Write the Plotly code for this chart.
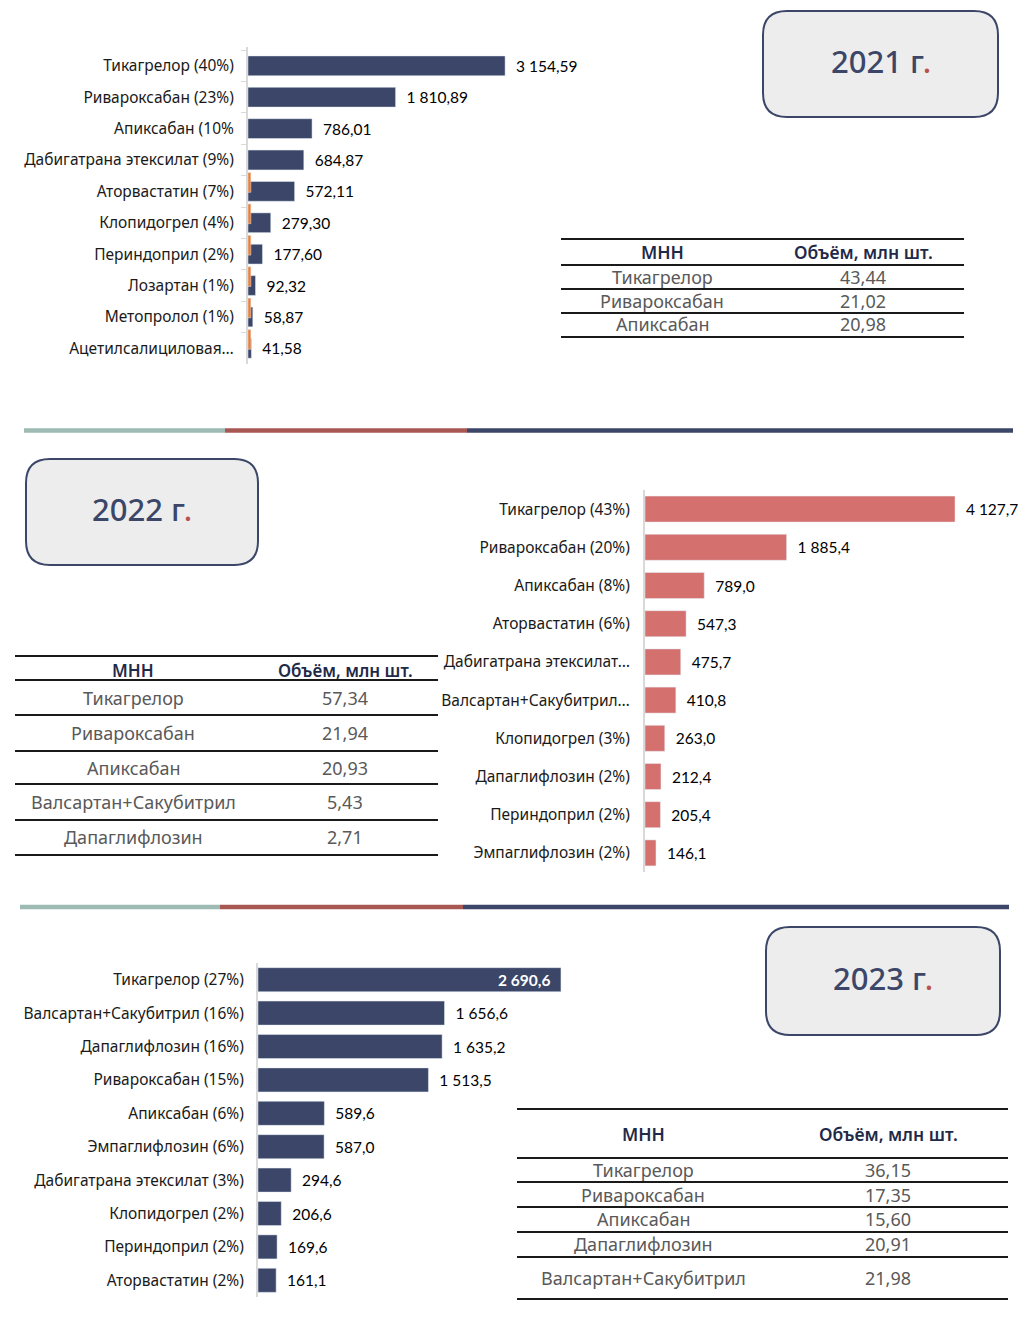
import plotly.graph_objects as go

W, H = 1036, 1336

# ---------------- data ----------------
labels_2021 = ["Тикагрелор (40%)", "Ривароксабан (23%)", "Апиксабан (10%",
               "Дабигатрана этексилат (9%)", "Аторвастатин (7%)", "Клопидогрел (4%)",
               "Периндоприл (2%)", "Лозартан (1%)", "Метопролол (1%)",
               "Ацетилсалициловая…"]
values_2021 = [3154.59, 1810.89, 786.01, 684.87, 572.11, 279.30, 177.60, 92.32, 58.87, 41.58]
minor_2021 = [None, None, None, None, 35, 35, 35, 35, 35, 35]

labels_2022 = ["Тикагрелор (43%)", "Ривароксабан (20%)", "Апиксабан (8%)",
               "Аторвастатин (6%)", "Дабигатрана этексилат…", "Валсартан+Сакубитрил…",
               "Клопидогрел (3%)", "Дапаглифлозин (2%)", "Периндоприл (2%)",
               "Эмпаглифлозин (2%)"]
values_2022 = [4127.7, 1885.4, 789.0, 547.3, 475.7, 410.8, 263.0, 212.4, 205.4, 146.1]

labels_2023 = ["Тикагрелор (27%)", "Валсартан+Сакубитрил (16%)", "Дапаглифлозин (16%)",
               "Ривароксабан (15%)", "Апиксабан (6%)", "Эмпаглифлозин (6%)",
               "Дабигатрана этексилат (3%)", "Клопидогрел (2%)", "Периндоприл (2%)",
               "Аторвастатин (2%)"]
values_2023 = [2690.6, 1656.6, 1635.2, 1513.5, 589.6, 587.0, 294.6, 206.6, 169.6, 161.1]

table_header = ["МНН", "Объём, млн шт."]
table_2021_mnn = ["Тикагрелор", "Ривароксабан", "Апиксабан"]
table_2021_vol = [43.44, 21.02, 20.98]
table_2022_mnn = ["Тикагрелор", "Ривароксабан", "Апиксабан", "Валсартан+Сакубитрил", "Дапаглифлозин"]
table_2022_vol = [57.34, 21.94, 20.93, 5.43, 2.71]
table_2023_mnn = ["Тикагрелор", "Ривароксабан", "Апиксабан", "Дапаглифлозин", "Валсартан+Сакубитрил"]
table_2023_vol = [36.15, 17.35, 15.60, 20.91, 21.98]

years = ["2021", "2022", "2023"]

# ---------------- style ----------------
NAVY = "#3b4668"
SALMON = "#d4706e"
ORANGE = "#ed7d31"
RED = "#b9524e"
LABEL_FONT = dict(family="Noto Sans", size=15.5, color="#1a1a1a")
VALUE_FONT = dict(family="Lato", size=15.5, color="#000000")
NBSP = "\u00a0"


def fmt(v, d):
    s = f"{v:,.{d}f}"
    return s.replace(",", " ").replace(".", ",")


def px(x):
    return x / W


def py(y):
    return 1 - y / H


fig = go.Figure()

# 2021
fig.add_trace(go.Bar(orientation="h", y=labels_2021, x=values_2021, xaxis="x", yaxis="y",
                     marker_color=NAVY, width=0.63,
                     text=[NBSP * 2 + fmt(v, 2) for v in values_2021],
                     textposition="outside", textfont=VALUE_FONT,
                     cliponaxis=False, constraintext="none"))
fig.add_trace(go.Bar(orientation="h", y=labels_2021, x=minor_2021, xaxis="x", yaxis="y",
                     marker_color=ORANGE, width=0.63, offset=-0.6))
# 2022
fig.add_trace(go.Bar(orientation="h", y=labels_2022, x=values_2022, xaxis="x2", yaxis="y2",
                     marker_color=SALMON, width=0.68,
                     text=[NBSP * 2 + fmt(v, 1) for v in values_2022],
                     textposition="outside", textfont=VALUE_FONT,
                     cliponaxis=False, constraintext="none"))
# 2023
pos_2023 = ["inside"] + ["outside"] * (len(values_2023) - 1)
txt_2023 = [fmt(values_2023[0], 1) + NBSP * 2] + [NBSP * 2 + fmt(v, 1) for v in values_2023[1:]]
fig.add_trace(go.Bar(orientation="h", y=labels_2023, x=values_2023, xaxis="x3", yaxis="y3",
                     marker_color=NAVY, width=0.72,
                     text=txt_2023, textposition=pos_2023,
                     insidetextanchor="end",
                     insidetextfont=dict(family="Lato", size=15.5, color="white", weight="bold"),
                     outsidetextfont=VALUE_FONT,
                     cliponaxis=False, constraintext="none"))

yax_common = dict(autorange="reversed", showline=True, linecolor="#d9d9d9", linewidth=2,
                  showgrid=False, zeroline=False, tickfont=LABEL_FONT, type="category")

fig.update_layout(
    width=W, height=H, margin=dict(l=0, r=0, t=0, b=0),
    paper_bgcolor="white", plot_bgcolor="white", showlegend=False,
    barmode="overlay",
    xaxis=dict(domain=[px(248), px(620)], range=[0, 372 / 0.0815], visible=False, anchor="y"),
    yaxis=dict(domain=[py(364), py(47)], anchor="x", ticks="outside", tickson="boundaries",
               ticklen=5, tickcolor="#d9d9d9", tickwidth=1, ticklabelstandoff=9, **yax_common),
    xaxis2=dict(domain=[px(645), px(1036)], range=[0, 391 / 0.0751], visible=False, anchor="y2"),
    yaxis2=dict(domain=[py(872), py(490)], anchor="x2", ticks="", ticklabelstandoff=10, **yax_common),
    xaxis3=dict(domain=[px(258), px(620)], range=[0, 362 / 0.1126], visible=False, anchor="y3"),
    yaxis3=dict(domain=[py(1297), py(963)], anchor="x3", ticks="", ticklabelstandoff=9, **yax_common),
)

shapes = []
annotations = []


def rrect(x0, y0, x1, y1, r):
    pts = [
        ("M", [(x0 + r, y0)]), ("L", [(x1 - r, y0)]), ("Q", [(x1, y0), (x1, y0 + r)]),
        ("L", [(x1, y1 - r)]), ("Q", [(x1, y1), (x1 - r, y1)]), ("L", [(x0 + r, y1)]),
        ("Q", [(x0, y1), (x0, y1 - r)]), ("L", [(x0, y0 + r)]), ("Q", [(x0, y0), (x0 + r, y0)]),
    ]
    s = ""
    for cmd, ps in pts:
        s += cmd + " " + " ".join(f"{px(a):.5f},{py(b):.5f}" for a, b in ps) + " "
    return s + "Z"


# year boxes
boxes = [(763, 11, 998, 117), (26, 459, 258, 565), (766, 927, 1000, 1035)]
for yr, (x0, y0, x1, y1) in zip(years, boxes):
    shapes.append(dict(type="path", xref="paper", yref="paper", path=rrect(x0, y0, x1, y1, 24),
                       fillcolor="#ededed", line=dict(color=NAVY, width=2), layer="below"))
    annotations.append(dict(xref="paper", yref="paper", x=px((x0 + x1) / 2), y=py((y0 + y1) / 2 - 3),
                            text=f"{yr} г<span style='color:{RED}'>.</span>", showarrow=False,
                            font=dict(family="Noto Sans", size=31, color=NAVY, weight=500),
                            xanchor="center", yanchor="middle"))

# separators
for yy, xs in [(430.5, [24, 225, 467, 1013]), (907, [20, 220, 463, 1009])]:
    for (a, b), c in zip([(xs[0], xs[1]), (xs[1], xs[2]), (xs[2], xs[3])],
                         ["#9dbab3", "#a85753", NAVY]):
        shapes.append(dict(type="line", xref="paper", yref="paper", x0=px(a), x1=px(b),
                           y0=py(yy), y1=py(yy), line=dict(color=c, width=4.5)))


# tables
def table(x0, x1, lines, header_y, row_ys, cx_name, cx_val, names, vols, hsize):
    for ly in lines:
        shapes.append(dict(type="line", xref="paper", yref="paper", x0=px(x0), x1=px(x1),
                           y0=py(ly), y1=py(ly), line=dict(color="#1a1a1a", width=2)))
    for cx, t in zip([cx_name, cx_val], table_header):
        annotations.append(dict(xref="paper", yref="paper", x=px(cx), y=py(header_y), text=t,
                                showarrow=False, xanchor="center", yanchor="middle",
                                font=dict(family="Noto Sans", size=hsize, color="#1f2a48", weight=600)))
    for ry, n, v in zip(row_ys, names, vols):
        annotations.append(dict(xref="paper", yref="paper", x=px(cx_name), y=py(ry), text=n,
                                showarrow=False, xanchor="center", yanchor="middle",
                                font=dict(family="Noto Sans", size=18, color="#595959")))
        annotations.append(dict(xref="paper", yref="paper", x=px(cx_val), y=py(ry), text=fmt(v, 2),
                                showarrow=False, xanchor="center", yanchor="middle",
                                font=dict(family="Noto Sans", size=18, color="#595959")))


table(561, 964, [239, 265, 289, 313, 337], 252, [277, 301, 324], 662, 863,
      table_2021_mnn, table_2021_vol, 17.5)
table(15, 438, [656, 680, 715, 751, 784, 820, 855], 670, [698, 733, 768, 802, 837], 133, 345,
      table_2022_mnn, table_2022_vol, 17)
table(517, 1008, [1109, 1158, 1182, 1207, 1232, 1257, 1299], 1134, [1170, 1195, 1219, 1244, 1278],
      643, 888, table_2023_mnn, table_2023_vol, 17.5)

fig.update_layout(shapes=shapes, annotations=annotations)
fig.write_html("out.html")
